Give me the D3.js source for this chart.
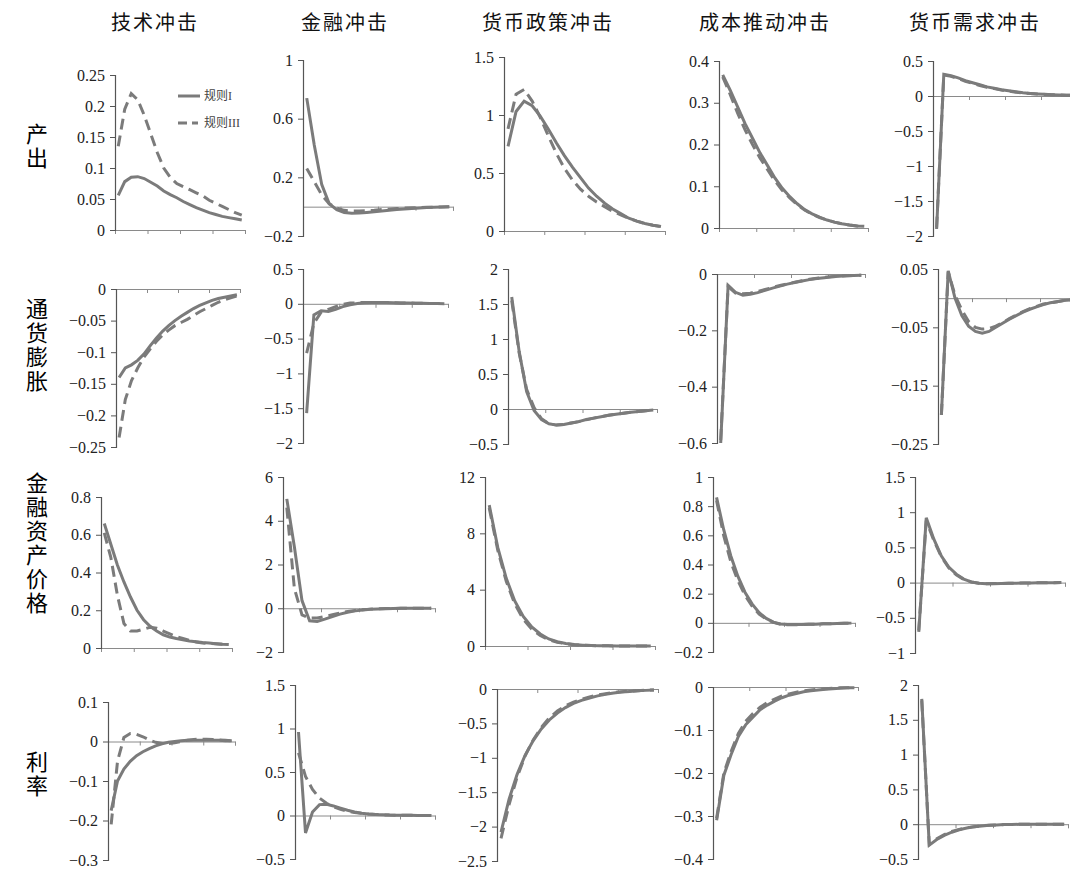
<!DOCTYPE html>
<html>
<head>
<meta charset="utf-8">
<script src="https://cdn.jsdelivr.net/npm/d3@7"></script>
<style>
  body { margin: 0; background: #fff; }
</style>
</head>
<body>
<svg width="1070" height="870"></svg>
<script>
// column / row headings
var shocks = ["技术冲击", "金融冲击", "货币政策冲击", "成本推动冲击", "货币需求冲击"];
var variables = ["产出", "通货膨胀", "金融资产价格", "利率"];
var rules = ["规则I", "规则III"];

// y tick values for each panel, row by row
var outputTicks = [[0, 0.05, 0.1, 0.15, 0.2, 0.25], [-0.2, 0.2, 0.6, 1], [0, 0.5, 1, 1.5], [0, 0.1, 0.2, 0.3, 0.4], [-2, -1.5, -1, -0.5, 0, 0.5]];
var inflationTicks = [[-0.25, -0.2, -0.15, -0.1, -0.05, 0], [-2, -1.5, -1, -0.5, 0, 0.5], [-0.5, 0, 0.5, 1, 1.5, 2], [-0.6, -0.4, -0.2, 0], [-0.25, -0.15, -0.05, 0.05]];
var assetTicks = [[0, 0.2, 0.4, 0.6, 0.8], [-2, 0, 2, 4, 6], [0, 4, 8, 12], [-0.2, 0, 0.2, 0.4, 0.6, 0.8, 1], [-1, -0.5, 0, 0.5, 1, 1.5]];
var rateTicks = [[-0.3, -0.2, -0.1, 0, 0.1], [-0.5, 0, 0.5, 1, 1.5], [-2.5, -2, -1.5, -1, -0.5, 0], [-0.4, -0.3, -0.2, -0.1, 0], [-0.5, 0, 0.5, 1, 1.5, 2]];

// impulse responses, 20 periods, rule I (solid) and rule III (dashed)
var output_I = [
  [0.056, 0.078, 0.085, 0.086, 0.083, 0.077, 0.071, 0.063, 0.057, 0.052, 0.046, 0.041, 0.036, 0.032, 0.028, 0.025, 0.022, 0.020, 0.018, 0.016],
  [0.74, 0.42, 0.15, 0.02, -0.02, -0.04, -0.045, -0.044, -0.04, -0.035, -0.03, -0.025, -0.02, -0.016, -0.012, -0.009, -0.006, -0.004, -0.002, -0.001],
  [0.73, 1.03, 1.12, 1.08, 0.99, 0.88, 0.76, 0.65, 0.55, 0.46, 0.37, 0.30, 0.24, 0.19, 0.15, 0.11, 0.085, 0.065, 0.05, 0.038],
  [0.367, 0.33, 0.29, 0.25, 0.215, 0.18, 0.15, 0.12, 0.095, 0.075, 0.058, 0.044, 0.034, 0.026, 0.019, 0.014, 0.01, 0.007, 0.005, 0.004],
  [-1.9, 0.31, 0.29, 0.26, 0.22, 0.19, 0.16, 0.13, 0.11, 0.09, 0.075, 0.06, 0.045, 0.037, 0.03, 0.024, 0.019, 0.015, 0.012, 0.01]
];
var output_III = [
  [0.135, 0.195, 0.22, 0.21, 0.185, 0.155, 0.125, 0.10, 0.085, 0.075, 0.07, 0.065, 0.06, 0.055, 0.048, 0.043, 0.038, 0.033, 0.028, 0.024],
  [0.26, 0.17, 0.08, 0.02, -0.01, -0.025, -0.03, -0.03, -0.028, -0.025, -0.02, -0.017, -0.013, -0.01, -0.008, -0.006, -0.004, -0.003, -0.002, -0.001],
  [0.88, 1.18, 1.22, 1.12, 0.98, 0.82, 0.67, 0.54, 0.44, 0.36, 0.30, 0.25, 0.21, 0.17, 0.14, 0.11, 0.085, 0.065, 0.05, 0.038],
  [0.362, 0.32, 0.275, 0.235, 0.2, 0.168, 0.14, 0.113, 0.09, 0.072, 0.056, 0.043, 0.033, 0.025, 0.019, 0.014, 0.01, 0.007, 0.005, 0.004],
  [-1.88, 0.3, 0.28, 0.25, 0.21, 0.18, 0.15, 0.125, 0.105, 0.085, 0.07, 0.055, 0.045, 0.036, 0.029, 0.023, 0.018, 0.014, 0.011, 0.009]
];
var inflation_I = [
  [-0.14, -0.125, -0.12, -0.113, -0.103, -0.09, -0.078, -0.067, -0.058, -0.05, -0.043, -0.037, -0.031, -0.026, -0.022, -0.018, -0.015, -0.013, -0.011, -0.009],
  [-1.57, -0.16, -0.1, -0.11, -0.08, -0.04, -0.015, 0.005, 0.015, 0.02, 0.02, 0.018, 0.016, 0.013, 0.011, 0.009, 0.007, 0.005, 0.003, 0.002],
  [1.6, 0.82, 0.25, -0.02, -0.15, -0.21, -0.23, -0.22, -0.2, -0.18, -0.15, -0.13, -0.11, -0.09, -0.075, -0.06, -0.045, -0.035, -0.025, -0.015],
  [-0.6, -0.04, -0.065, -0.075, -0.072, -0.066, -0.058, -0.05, -0.043, -0.036, -0.03, -0.025, -0.02, -0.016, -0.013, -0.01, -0.008, -0.006, -0.005, -0.004],
  [-0.2, 0.047, 0.0, -0.03, -0.048, -0.057, -0.06, -0.057, -0.05, -0.043, -0.036, -0.03, -0.024, -0.019, -0.015, -0.011, -0.008, -0.006, -0.004, -0.003]
];
var inflation_III = [
  [-0.235, -0.175, -0.145, -0.125, -0.108, -0.095, -0.083, -0.073, -0.065, -0.058, -0.053, -0.048, -0.042, -0.036, -0.031, -0.026, -0.021, -0.017, -0.014, -0.011],
  [-0.71, -0.28, -0.12, -0.08, -0.04, -0.01, 0.01, 0.015, 0.02, 0.02, 0.02, 0.018, 0.016, 0.013, 0.011, 0.009, 0.007, 0.005, 0.003, 0.002],
  [1.55, 0.8, 0.28, 0.02, -0.14, -0.21, -0.23, -0.22, -0.2, -0.18, -0.155, -0.13, -0.11, -0.09, -0.075, -0.06, -0.045, -0.035, -0.025, -0.015],
  [-0.59, -0.045, -0.068, -0.07, -0.068, -0.062, -0.055, -0.048, -0.041, -0.035, -0.029, -0.024, -0.019, -0.015, -0.012, -0.01, -0.008, -0.006, -0.005, -0.004],
  [-0.2, 0.045, 0.005, -0.02, -0.04, -0.05, -0.053, -0.052, -0.048, -0.042, -0.035, -0.029, -0.023, -0.018, -0.014, -0.01, -0.008, -0.006, -0.004, -0.003]
];
var asset_I = [
  [0.66, 0.55, 0.44, 0.35, 0.27, 0.2, 0.15, 0.115, 0.09, 0.07, 0.058, 0.05, 0.043, 0.037, 0.033, 0.029, 0.026, 0.023, 0.02, 0.018],
  [5.0, 2.8, 0.35, -0.57, -0.6, -0.5, -0.38, -0.27, -0.18, -0.12, -0.08, -0.05, -0.03, -0.02, -0.01, -0.005, 0, 0, 0, 0],
  [10.0, 7.0, 4.8, 3.2, 2.1, 1.35, 0.85, 0.5, 0.3, 0.18, 0.1, 0.06, 0.03, 0.02, 0.01, 0, 0, 0, 0, 0],
  [0.86, 0.64, 0.46, 0.32, 0.21, 0.13, 0.07, 0.03, 0.005, -0.008, -0.012, -0.012, -0.011, -0.01, -0.009, -0.007, -0.006, -0.005, -0.003, -0.002],
  [-0.7, 0.92, 0.62, 0.38, 0.22, 0.12, 0.05, 0.01, -0.01, -0.015, -0.015, -0.012, -0.01, -0.008, -0.006, -0.004, -0.003, -0.002, -0.001, 0]
];
var asset_III = [
  [0.61, 0.48, 0.28, 0.13, 0.09, 0.09, 0.1, 0.11, 0.105, 0.09, 0.075, 0.06, 0.05, 0.04, 0.032, 0.027, 0.024, 0.022, 0.02, 0.018],
  [4.6, 0.9, -0.3, -0.45, -0.45, -0.38, -0.3, -0.22, -0.15, -0.1, -0.065, -0.04, -0.025, -0.015, -0.01, -0.005, 0, 0, 0, 0],
  [9.8, 6.8, 4.6, 3.0, 1.9, 1.2, 0.75, 0.45, 0.27, 0.16, 0.09, 0.05, 0.03, 0.02, 0.01, 0, 0, 0, 0, 0],
  [0.84, 0.6, 0.42, 0.29, 0.19, 0.115, 0.06, 0.025, 0.003, -0.009, -0.013, -0.013, -0.012, -0.01, -0.009, -0.007, -0.006, -0.005, -0.003, -0.002],
  [-0.68, 0.88, 0.6, 0.37, 0.21, 0.11, 0.045, 0.008, -0.01, -0.015, -0.014, -0.012, -0.01, -0.008, -0.006, -0.004, -0.003, -0.002, -0.001, 0]
];
var rate_I = [
  [-0.175, -0.1, -0.07, -0.05, -0.036, -0.026, -0.018, -0.011, -0.006, -0.002, 0.0, 0.002, 0.003, 0.003, 0.003, 0.003, 0.003, 0.003, 0.002, 0.002],
  [0.96, -0.2, 0.04, 0.125, 0.13, 0.11, 0.085, 0.06, 0.04, 0.027, 0.018, 0.012, 0.008, 0.005, 0.004, 0.003, 0.002, 0.001, 0.001, 0],
  [-2.08, -1.6, -1.24, -0.96, -0.75, -0.58, -0.45, -0.35, -0.27, -0.21, -0.165, -0.13, -0.1, -0.075, -0.058, -0.045, -0.035, -0.027, -0.02, -0.015],
  [-0.31, -0.205, -0.157, -0.115, -0.088, -0.07, -0.053, -0.042, -0.033, -0.025, -0.019, -0.015, -0.011, -0.009, -0.007, -0.005, -0.004, -0.003, -0.002, -0.002],
  [1.8, -0.3, -0.22, -0.16, -0.115, -0.08, -0.055, -0.037, -0.025, -0.016, -0.01, -0.006, -0.004, -0.002, -0.001, 0, 0, 0, 0, 0]
];
var rate_III = [
  [-0.21, -0.05, 0.01, 0.02, 0.018, 0.012, 0.004, -0.002, -0.005, -0.005, -0.003, 0, 0.003, 0.005, 0.006, 0.006, 0.005, 0.004, 0.003, 0.002],
  [0.72, 0.45, 0.3, 0.2, 0.14, 0.1, 0.07, 0.05, 0.035, 0.025, 0.017, 0.012, 0.008, 0.005, 0.004, 0.003, 0.002, 0.001, 0.001, 0],
  [-2.17, -1.68, -1.28, -0.97, -0.74, -0.56, -0.42, -0.32, -0.245, -0.19, -0.15, -0.115, -0.088, -0.068, -0.052, -0.04, -0.031, -0.024, -0.018, -0.014],
  [-0.305, -0.2, -0.15, -0.108, -0.08, -0.062, -0.047, -0.036, -0.028, -0.021, -0.016, -0.012, -0.009, -0.007, -0.005, -0.004, -0.003, -0.002, -0.002, -0.001],
  [1.78, -0.29, -0.21, -0.15, -0.105, -0.075, -0.052, -0.035, -0.024, -0.015, -0.01, -0.006, -0.004, -0.002, -0.001, 0, 0, 0, 0, 0]
];

var rows = [
  {ticks: outputTicks, s1: output_I, s3: output_III},
  {ticks: inflationTicks, s1: inflation_I, s3: inflation_III},
  {ticks: assetTicks, s1: asset_I, s3: asset_III},
  {ticks: rateTicks, s1: rate_I, s3: rate_III}
];

// panel boxes: [axis x, right x, y of top tick, y of bottom tick]
var boxes = [
  [[115, 245, 75, 230], [303, 453, 60, 236], [504, 665, 57, 231], [719, 868, 61, 228], [933, 1077, 61, 236]],
  [[116, 240, 289, 447], [303, 448, 269, 443], [508, 657, 269, 444], [717, 865, 274, 443], [938, 1074, 269, 444]],
  [[101, 232, 497, 648], [283, 435, 477, 652], [485, 655, 477, 646], [713, 855, 477, 652], [915, 1065, 477, 653]],
  [[108, 235, 702, 860], [295, 435, 685, 859], [497, 658, 689, 861], [713, 858, 687, 859], [918, 1068, 685, 859]]
];

var svg = d3.select("svg");
var lineColor = "#7b7b7b";
var periods = d3.range(20);

// column titles
svg.selectAll(".col-title")
    .data(shocks)
    .enter().append("text")
    .attr("class", "col-title")
    .attr("x", function (d, i) { return [155, 345, 548, 765, 975][i]; })
    .attr("y", 30)
    .attr("text-anchor", "middle")
    .style("font-family", "'Noto Sans CJK SC'")
    .style("font-size", "20px")
    .style("letter-spacing", "2px")
    .style("fill", "#111")
    .text(function (d) { return d; });

// row labels, written vertically
var rowCenters = [147, 346, 544, 775];
svg.selectAll(".row-title")
    .data(variables)
    .enter().append("text")
    .attr("class", "row-title")
    .attr("x", 37)
    .attr("y", function (d, i) { return rowCenters[i]; })
    .attr("text-anchor", "middle")
    .style("writing-mode", "vertical-rl")
    .style("text-orientation", "upright")
    .style("font-family", "'Noto Sans CJK SC'")
    .style("font-size", "22px")
    .style("letter-spacing", "2px")
    .style("fill", "#000")
    .text(function (d) { return d; });

rows.forEach(function (row, r) {
    for (var c = 0; c < 5; c++) {
        var b = boxes[r][c];
        var ticks = row.ticks[c];
        var g = svg.append("g");

        var x = d3.scalePoint().domain(periods).range([b[0], b[1]]).padding(0.5);
        var y = d3.scaleLinear().domain([d3.min(ticks), d3.max(ticks)]).range([b[3], b[2]]);

        // zero line with category ticks
        var xAxis = d3.axisBottom(d3.scaleLinear().domain([0, 4]).range([b[0], b[1]]))
            .tickValues([1, 2, 3, 4]).tickSize(4).tickFormat("");
        g.append("g")
            .attr("transform", "translate(0," + y(0) + ")")
            .call(xAxis)
            .call(function (s) {
                s.selectAll("path, line").attr("stroke", "#8a8a8a").attr("stroke-width", 1);
            });

        // y axis
        var yAxis = d3.axisLeft(y).tickValues(ticks).tickSize(5).tickPadding(5)
            .tickFormat(function (d) { return d3.format("")(+d.toFixed(2)); });
        g.append("g")
            .attr("transform", "translate(" + b[0] + ",0)")
            .call(yAxis)
            .call(function (s) {
                s.select(".domain").attr("stroke", "#555").attr("stroke-width", 1.2);
                s.selectAll(".tick line").attr("stroke", "#555");
                s.selectAll("text")
                    .style("font-family", "'Liberation Serif'")
                    .style("font-size", "16px")
                    .style("fill", "#222");
            });

        var line = d3.line()
            .x(function (d, i) { return x(i); })
            .y(function (d) { return y(d); });

        g.append("path")
            .datum(row.s1[c])
            .attr("d", line)
            .attr("fill", "none")
            .attr("stroke", lineColor)
            .attr("stroke-width", 3);

        g.append("path")
            .datum(row.s3[c])
            .attr("d", line)
            .attr("fill", "none")
            .attr("stroke", lineColor)
            .attr("stroke-width", 3)
            .attr("stroke-dasharray", "11,6");
    }
});

// legend in the first panel
var legend = svg.append("g").attr("transform", "translate(178,96)");
rules.forEach(function (name, i) {
    legend.append("line")
        .attr("x1", 0).attr("x2", i === 0 ? 22 : 20)
        .attr("y1", i * 27).attr("y2", i * 27)
        .attr("stroke", lineColor)
        .attr("stroke-width", 3)
        .attr("stroke-dasharray", i === 0 ? null : "9,5");
    legend.append("text")
        .attr("x", 26)
        .attr("y", i * 27)
        .attr("dy", "0.35em")
        .style("font-family", "'Liberation Serif', 'Noto Sans CJK SC'")
        .style("font-size", "12px")
        .style("fill", "#444")
        .text(name);
});
</script>
</body>
</html>
